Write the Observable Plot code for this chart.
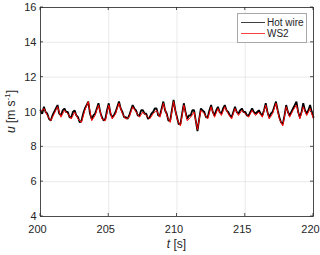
<!DOCTYPE html>
<html><head><meta charset="utf-8">
<script src="https://cdn.jsdelivr.net/npm/d3@7"></script>
<script src="https://cdn.jsdelivr.net/npm/@observablehq/plot@0.6"></script>
<style>
body{margin:0;background:#fff;font-family:"Liberation Sans",Arial,sans-serif;}
#wrap{position:relative;width:320px;height:255px;}
#legend{position:absolute;left:237px;top:13px;width:68px;height:28px;border:1px solid #a8a8a8;background:#fff;font-size:10px;color:#262626;}
#legend div{position:absolute;left:3px;height:12px;line-height:12px;white-space:nowrap;}
#legend span.l{display:inline-block;width:24px;height:0;vertical-align:middle;margin-right:2px;position:relative;top:-1px;}
</style></head><body><div id="wrap"><div id="legend"></div></div>
<script>
const xTicks = [200, 205, 210, 215, 220];
const yTicks = [4, 6, 8, 10, 12, 14, 16];
const seriesNames = ["Hot wire", "WS2"];
const seriesColors = ["#000000", "#ff0000"];
// WS2 samples every 0.25 s from 200 s
const ws2 = [10.0,10.2,9.8,9.5,9.9,10.3,9.7,10.1,9.9,9.6,10.0,9.6,9.4,10.1,10.6,9.5,9.8,10.4,9.6,9.5,
10.4,9.6,9.9,10.5,9.9,9.6,9.7,10.3,10.0,9.7,10.0,9.8,9.6,9.9,10.1,9.7,10.5,9.8,9.4,10.6,
9.6,9.2,10.4,9.5,9.7,10.0,9.0,10.1,9.9,9.6,10.3,9.7,10.2,9.8,10.3,9.9,9.6,10.2,9.8,10.1,
9.9,9.7,10.1,9.8,10.0,9.7,10.4,9.6,9.9,10.5,9.6,9.2,10.3,9.7,10.1,10.4,9.6,10.3,9.8,10.2,9.6];
// Hot wire samples every 0.125 s from 200 s
const hotWire = [10.1,9.9,10.3,10.0,9.9,9.6,9.5,9.8,
10.0,10.2,10.4,9.9,9.8,10.1,10.2,10.0,
10.0,9.7,9.7,10.0,10.1,9.8,9.7,9.4,
9.5,9.9,10.2,10.4,10.6,9.9,9.6,9.8,
9.9,10.2,10.5,10.0,9.7,9.5,9.6,10.1,
10.5,9.9,9.7,9.8,10.0,10.3,10.6,10.2,
10.0,9.7,9.7,9.6,9.8,10.1,10.4,10.2,
10.1,9.8,9.8,10.1,10.1,9.9,9.9,9.6,
9.7,9.9,10.0,10.2,10.2,9.8,9.8,10.2,
10.6,10.1,9.9,9.5,9.5,10.1,10.7,10.1,
9.7,9.3,9.3,9.9,10.5,10.0,9.6,9.8,
9.8,10.1,10.1,9.5,8.9,9.6,10.2,10.1,
10.0,9.7,9.7,10.1,10.4,10.0,9.8,10.1,
10.3,10.0,9.9,10.2,10.4,10.1,10.0,9.8,
9.7,10.0,10.3,10.0,9.9,10.1,10.2,10.0,
10.0,9.8,9.8,10.0,10.2,10.0,9.9,10.0,
10.1,9.9,9.8,10.1,10.5,10.0,9.7,9.9,
10.0,10.3,10.6,10.1,9.7,9.4,9.3,9.8,
10.4,10.0,9.8,10.0,10.2,10.4,10.6,10.0,
9.7,10.0,10.5,10.1,9.9,10.1,10.4,10.0,
9.7];
const t0 = 200;
const hwData = hotWire.map((v,i)=>({t: t0 + i*0.125, u: v}));
const wsData = ws2.map((v,i)=>({t: t0 + i*0.25, u: v}));

const axisColor = "#262626";
const chart = Plot.plot({
  width: 320, height: 255,
  marginLeft: 40, marginRight: 7, marginTop: 7, marginBottom: 39,
  style: {fontFamily: '"Liberation Sans", Arial, sans-serif', fontSize: "11px", color: axisColor, background: "#fff"},
  x: {type: "linear", domain: [200, 220], label: null},
  y: {type: "linear", domain: [4, 16], label: null},
  marks: [
    Plot.gridX(xTicks, {stroke: "#dcdcdc", strokeOpacity: 1, strokeWidth: 0.6}),
    Plot.gridY(yTicks, {stroke: "#dcdcdc", strokeOpacity: 1, strokeWidth: 0.6}),
    Plot.line(hwData, {x: "t", y: "u", stroke: seriesColors[0], strokeWidth: 1.8, strokeLinejoin: "miter"}),
    Plot.line(wsData, {x: "t", y: "u", stroke: seriesColors[1], strokeWidth: 1}),
    Plot.axisX(xTicks, {tickSize: 0, tickPadding: 9, fontSize: 11, dx: -3}),
    Plot.axisY(yTicks, {tickSize: 0, tickPadding: 4, fontSize: 11}),
    Plot.frame({stroke: axisColor, strokeWidth: 0.8})
  ]
});
const svg = d3.select(chart);
const xs = chart.scale("x"), ys = chart.scale("y");
const g = svg.append("g").attr("stroke", axisColor).attr("stroke-width", 0.8);
for (const v of xTicks) {
  const x = xs.apply(v);
  g.append("line").attr("x1", x).attr("x2", x).attr("y1", ys.apply(4)).attr("y2", ys.apply(4) - 3);
  g.append("line").attr("x1", x).attr("x2", x).attr("y1", ys.apply(16)).attr("y2", ys.apply(16) + 3);
}
for (const v of yTicks) {
  const y = ys.apply(v);
  g.append("line").attr("y1", y).attr("y2", y).attr("x1", xs.apply(200)).attr("x2", xs.apply(200) + 3);
  g.append("line").attr("y1", y).attr("y2", y).attr("x1", xs.apply(220)).attr("x2", xs.apply(220) - 3);
}
const xl = svg.append("text").attr("x", (xs.apply(200)+xs.apply(220))/2).attr("y", 248)
  .attr("text-anchor", "middle").attr("fill", axisColor).attr("font-size", 12);
xl.append("tspan").attr("font-style", "italic").text("t");
xl.append("tspan").text(" [s]");
const yl = svg.append("text").attr("transform", `translate(15,${(ys.apply(4)+ys.apply(16))/2}) rotate(-90)`)
  .attr("text-anchor", "middle").attr("fill", axisColor).attr("font-size", 12);
yl.append("tspan").attr("font-style", "italic").text("u");
yl.append("tspan").text(" [m s");
yl.append("tspan").attr("font-size", 8).attr("dy", -5).text("-1");
yl.append("tspan").attr("dy", 5).text("]");
document.getElementById("wrap").prepend(chart);
const leg = document.getElementById("legend");
seriesNames.forEach((n,i)=>{
  const d = document.createElement("div");
  d.style.top = (3 + i*11) + "px";
  d.innerHTML = `<span class="l" style="border-top:1px solid ${seriesColors[i]};opacity:0.75"></span>${n}`;
  leg.appendChild(d);
});
</script></body></html>
